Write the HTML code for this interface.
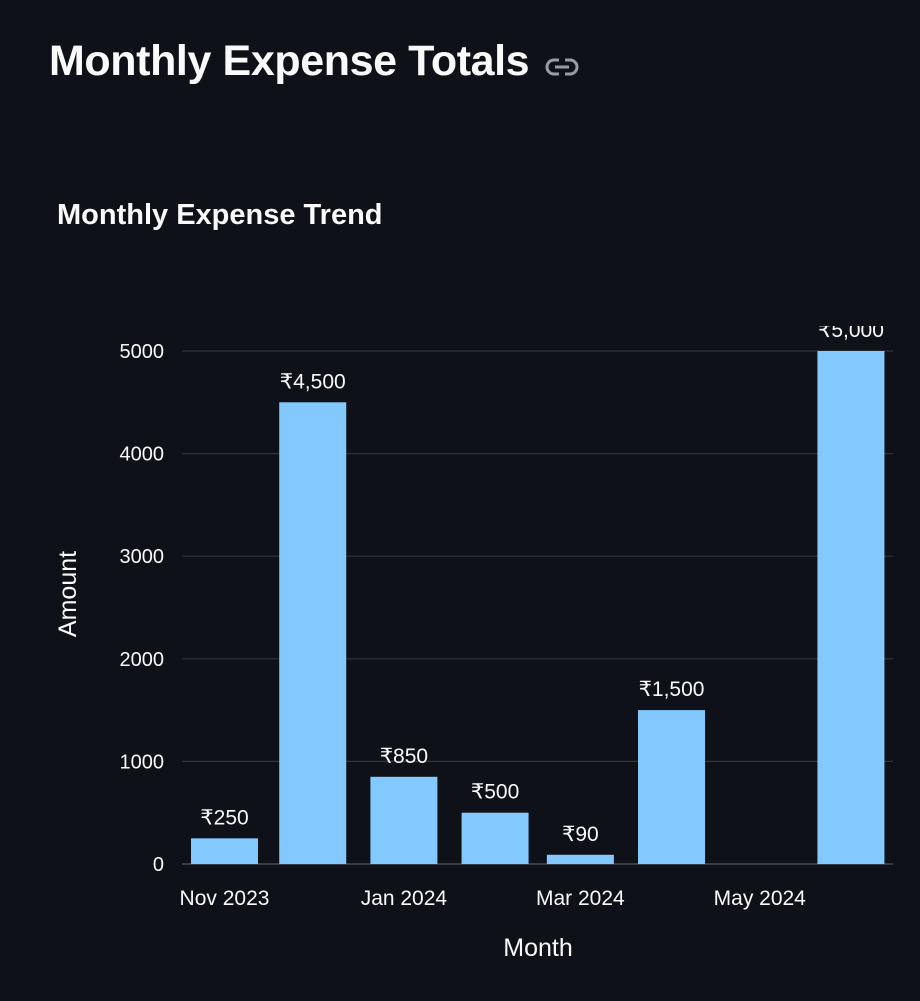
<!DOCTYPE html>
<html><head><meta charset="utf-8"><style>
body{margin:0;background:#0e1117;width:920px;height:1001px;overflow:hidden;font-family:"Liberation Sans",sans-serif;color:#fafafa}
h1{position:absolute;left:49px;top:37px;margin:0;font-size:43px;font-weight:bold;letter-spacing:-0.4px}
</style></head><body>
<h1>Monthly Expense Totals</h1>
<svg width="34" height="20" style="position:absolute;left:545px;top:57px" viewBox="0 0 34 20"><rect x="2" y="3" width="30" height="14" rx="7" fill="none" stroke="#9a9ca3" stroke-width="3"/><rect x="14" y="1" width="6" height="18" fill="#0e1117"/><line x1="10" y1="10" x2="24" y2="10" stroke="#9a9ca3" stroke-width="3"/></svg>
<svg id="chart" width="920" height="1001" style="position:absolute;left:0;top:0">
<text x="57" y="224" fill="#fafafa" font-size="29" font-weight="bold">Monthly Expense Trend</text>
<defs><clipPath id="cp"><rect x="170" y="326" width="740" height="560"/></clipPath></defs>
<g id="grid"></g><g id="bars" clip-path="url(#cp)"></g><g id="labels" clip-path="url(#cp)"></g><g id="axes"></g>
<text x="538" y="956" text-anchor="middle" fill="#fafafa" font-size="25">Month</text>
<text transform="translate(76,594) rotate(-90)" text-anchor="middle" fill="#fafafa" font-size="25">Amount</text>
</svg>
<script>
const months=["2023-11-01","2023-12-01","2024-01-01","2024-02-01","2024-03-01","2024-04-01","2024-06-01"];
const amounts=[250,4500,850,500,90,1500,5000];
const valueLabels=["₹250","₹4,500","₹850","₹500","₹90","₹1,500","₹5,000"];
const yTicks=[0,1000,2000,3000,4000,5000];
const xTickDates=["2023-11-01","2024-01-01","2024-03-01","2024-05-01"];
const xTickLabels=["Nov 2023","Jan 2024","Mar 2024","May 2024"];
const NS="http://www.w3.org/2000/svg";
const t0=Date.parse("2023-11-01"),DAY=86400000;
function x(d){return 224.5+(Date.parse(d)-t0)/DAY*2.941;}
function y(v){return 864-v*0.1026;}
function mk(tag,a,parent){const e=document.createElementNS(NS,tag);for(const k in a)e.setAttribute(k,a[k]);document.getElementById(parent).appendChild(e);return e;}
yTicks.forEach(v=>{
 const l=mk("line",{x1:182,x2:893,y1:y(v),y2:y(v),stroke:v===0?"#3a3d48":"#31333f","stroke-width":v===0?2:1.2},"grid");
 
 
 const t=mk("text",{x:164,y:y(v)+7,"text-anchor":"end",fill:"#fafafa","font-size":20},"axes");
 t.textContent=v;
 
 
});
xTickDates.forEach((d,i)=>{
 const t=mk("text",{x:x(d),y:905,"text-anchor":"middle",fill:"#fafafa","font-size":21},"axes");
 t.textContent=xTickLabels[i];
 
 
});
months.forEach((m,i)=>{
 const cx=x(m),v=amounts[i];
 const r=mk("rect",{x:cx-33.5,y:y(v),width:67,height:864-y(v),fill:"#83c9ff"},"bars");
 
 
 const t=mk("text",{x:cx,y:y(v)-14,"text-anchor":"middle",fill:"#fafafa","font-size":21},"labels");
 t.textContent=valueLabels[i];
 
 
});
</script>
</body></html>
